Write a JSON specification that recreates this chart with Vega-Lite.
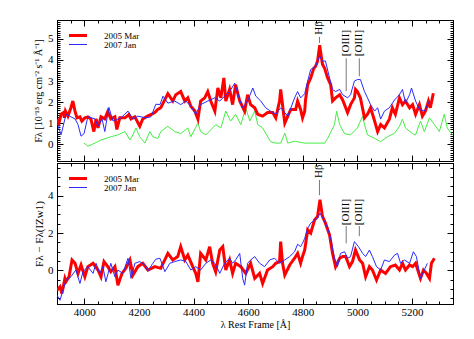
{
"$schema": "https://vega.github.io/schema/vega-lite/v6.json",
"padding": {"left": 33, "top": 19, "right": 12, "bottom": 4},
"background": "white",
"config": {
  "font": "Liberation Serif",
  "view": {"stroke": "black", "strokeWidth": 1},
  "axis": {"domainColor": "black", "tickColor": "black", "labelColor": "black", "titleColor": "black", "labelFont": "Liberation Serif", "titleFont": "Liberation Serif", "labelFontSize": 11, "titleFontSize": 11, "titleFontWeight": "normal", "grid": false, "domainWidth": 1, "tickWidth": 1, "zindex": 1, "format": "d"},
  "legend": {"orient": "top-left", "offset": 12, "padding": 0, "symbolType": "stroke", "symbolSize": 729, "clipHeight": 7, "rowPadding": -4, "labelFont": "Liberation Serif", "labelFontSize": 9, "labelColor": "black", "labelOffset": 26, "title": null}
},
"datasets": {
  "top": [
    {"s":"2005 Mar","lam":3900,"f":1.19},{"s":"2005 Mar","lam":3907,"f":1.0},{"s":"2005 Mar","lam":3915,"f":1.42},{"s":"2005 Mar","lam":3924,"f":1.5},{"s":"2005 Mar","lam":3927,"f":1.25},{"s":"2005 Mar","lam":3931,"f":1.57},{"s":"2005 Mar","lam":3940,"f":1.33},{"s":"2005 Mar","lam":3951,"f":1.73},{"s":"2005 Mar","lam":3958,"f":2.05},{"s":"2005 Mar","lam":3966,"f":1.57},{"s":"2005 Mar","lam":3973,"f":1.25},{"s":"2005 Mar","lam":3984,"f":1.3},{"s":"2005 Mar","lam":3991,"f":1.1},{"s":"2005 Mar","lam":4002,"f":1.25},{"s":"2005 Mar","lam":4013,"f":1.3},{"s":"2005 Mar","lam":4024,"f":1.2},{"s":"2005 Mar","lam":4035,"f":0.6},{"s":"2005 Mar","lam":4043,"f":1.2},{"s":"2005 Mar","lam":4050,"f":0.77},{"s":"2005 Mar","lam":4061,"f":1.3},{"s":"2005 Mar","lam":4075,"f":1.2},{"s":"2005 Mar","lam":4086,"f":1.55},{"s":"2005 Mar","lam":4097,"f":1.2},{"s":"2005 Mar","lam":4112,"f":1.3},{"s":"2005 Mar","lam":4119,"f":0.7},{"s":"2005 Mar","lam":4130,"f":1.25},{"s":"2005 Mar","lam":4149,"f":1.25},{"s":"2005 Mar","lam":4163,"f":1.4},{"s":"2005 Mar","lam":4171,"f":1.2},{"s":"2005 Mar","lam":4185,"f":1.3},{"s":"2005 Mar","lam":4203,"f":0.85},{"s":"2005 Mar","lam":4214,"f":1.2},{"s":"2005 Mar","lam":4233,"f":1.35},{"s":"2005 Mar","lam":4251,"f":1.45},{"s":"2005 Mar","lam":4258,"f":1.5},{"s":"2005 Mar","lam":4269,"f":1.65},{"s":"2005 Mar","lam":4280,"f":1.73},{"s":"2005 Mar","lam":4306,"f":2.4},{"s":"2005 Mar","lam":4324,"f":2.05},{"s":"2005 Mar","lam":4335,"f":2.35},{"s":"2005 Mar","lam":4353,"f":2.5},{"s":"2005 Mar","lam":4368,"f":2.05},{"s":"2005 Mar","lam":4379,"f":2.2},{"s":"2005 Mar","lam":4390,"f":1.8},{"s":"2005 Mar","lam":4405,"f":1.57},{"s":"2005 Mar","lam":4416,"f":1.19},{"s":"2005 Mar","lam":4426,"f":2.05},{"s":"2005 Mar","lam":4441,"f":2.2},{"s":"2005 Mar","lam":4452,"f":2.5},{"s":"2005 Mar","lam":4463,"f":2.05},{"s":"2005 Mar","lam":4478,"f":1.57},{"s":"2005 Mar","lam":4489,"f":2.67},{"s":"2005 Mar","lam":4500,"f":2.2},{"s":"2005 Mar","lam":4511,"f":3.15},{"s":"2005 Mar","lam":4518,"f":2.05},{"s":"2005 Mar","lam":4532,"f":2.6},{"s":"2005 Mar","lam":4543,"f":1.88},{"s":"2005 Mar","lam":4554,"f":2.83},{"s":"2005 Mar","lam":4569,"f":2.05},{"s":"2005 Mar","lam":4587,"f":1.57},{"s":"2005 Mar","lam":4598,"f":2.35},{"s":"2005 Mar","lam":4609,"f":1.88},{"s":"2005 Mar","lam":4624,"f":1.73},{"s":"2005 Mar","lam":4635,"f":1.42},{"s":"2005 Mar","lam":4653,"f":1.33},{"s":"2005 Mar","lam":4671,"f":1.5},{"s":"2005 Mar","lam":4690,"f":1.5},{"s":"2005 Mar","lam":4701,"f":1.25},{"s":"2005 Mar","lam":4715,"f":2.05},{"s":"2005 Mar","lam":4719,"f":2.6},{"s":"2005 Mar","lam":4734,"f":1.0},{"s":"2005 Mar","lam":4745,"f":1.33},{"s":"2005 Mar","lam":4756,"f":1.65},{"s":"2005 Mar","lam":4774,"f":1.65},{"s":"2005 Mar","lam":4781,"f":2.05},{"s":"2005 Mar","lam":4792,"f":1.65},{"s":"2005 Mar","lam":4799,"f":1.25},{"s":"2005 Mar","lam":4807,"f":1.57},{"s":"2005 Mar","lam":4810,"f":2.1},{"s":"2005 Mar","lam":4818,"f":2.83},{"s":"2005 Mar","lam":4829,"f":3.15},{"s":"2005 Mar","lam":4840,"f":3.6},{"s":"2005 Mar","lam":4847,"f":3.7},{"s":"2005 Mar","lam":4854,"f":3.95},{"s":"2005 Mar","lam":4862,"f":4.7},{"s":"2005 Mar","lam":4865,"f":4.4},{"s":"2005 Mar","lam":4872,"f":3.8},{"s":"2005 Mar","lam":4880,"f":3.6},{"s":"2005 Mar","lam":4891,"f":3.15},{"s":"2005 Mar","lam":4902,"f":2.83},{"s":"2005 Mar","lam":4909,"f":2.05},{"s":"2005 Mar","lam":4920,"f":2.2},{"s":"2005 Mar","lam":4935,"f":2.35},{"s":"2005 Mar","lam":4946,"f":2.1},{"s":"2005 Mar","lam":4964,"f":1.5},{"s":"2005 Mar","lam":4975,"f":1.88},{"s":"2005 Mar","lam":4989,"f":2.2},{"s":"2005 Mar","lam":4993,"f":2.6},{"s":"2005 Mar","lam":5000,"f":2.5},{"s":"2005 Mar","lam":5011,"f":2.2},{"s":"2005 Mar","lam":5026,"f":1.25},{"s":"2005 Mar","lam":5037,"f":1.42},{"s":"2005 Mar","lam":5048,"f":1.73},{"s":"2005 Mar","lam":5063,"f":1.1},{"s":"2005 Mar","lam":5074,"f":0.6},{"s":"2005 Mar","lam":5085,"f":0.93},{"s":"2005 Mar","lam":5099,"f":0.77},{"s":"2005 Mar","lam":5117,"f":1.19},{"s":"2005 Mar","lam":5128,"f":1.73},{"s":"2005 Mar","lam":5139,"f":1.42},{"s":"2005 Mar","lam":5154,"f":2.2},{"s":"2005 Mar","lam":5165,"f":1.88},{"s":"2005 Mar","lam":5176,"f":2.05},{"s":"2005 Mar","lam":5191,"f":1.73},{"s":"2005 Mar","lam":5202,"f":1.88},{"s":"2005 Mar","lam":5213,"f":1.42},{"s":"2005 Mar","lam":5227,"f":1.88},{"s":"2005 Mar","lam":5238,"f":1.33},{"s":"2005 Mar","lam":5249,"f":1.57},{"s":"2005 Mar","lam":5260,"f":2.05},{"s":"2005 Mar","lam":5267,"f":1.73},{"s":"2005 Mar","lam":5278,"f":2.42},
    {"s":"2007 Jan","lam":3900,"f":1.0},{"s":"2007 Jan","lam":3915,"f":0.45},{"s":"2007 Jan","lam":3933,"f":1.42},{"s":"2007 Jan","lam":3951,"f":1.3},{"s":"2007 Jan","lam":3966,"f":1.2},{"s":"2007 Jan","lam":3977,"f":0.93},{"s":"2007 Jan","lam":3988,"f":0.38},{"s":"2007 Jan","lam":3999,"f":0.5},{"s":"2007 Jan","lam":4013,"f":1.3},{"s":"2007 Jan","lam":4039,"f":1.2},{"s":"2007 Jan","lam":4050,"f":0.85},{"s":"2007 Jan","lam":4065,"f":1.2},{"s":"2007 Jan","lam":4075,"f":0.6},{"s":"2007 Jan","lam":4090,"f":1.75},{"s":"2007 Jan","lam":4105,"f":1.1},{"s":"2007 Jan","lam":4134,"f":1.25},{"s":"2007 Jan","lam":4160,"f":1.57},{"s":"2007 Jan","lam":4178,"f":1.2},{"s":"2007 Jan","lam":4196,"f":1.33},{"s":"2007 Jan","lam":4225,"f":1.25},{"s":"2007 Jan","lam":4244,"f":1.3},{"s":"2007 Jan","lam":4262,"f":1.9},{"s":"2007 Jan","lam":4277,"f":1.88},{"s":"2007 Jan","lam":4288,"f":2.28},{"s":"2007 Jan","lam":4306,"f":1.95},{"s":"2007 Jan","lam":4331,"f":2.05},{"s":"2007 Jan","lam":4353,"f":1.88},{"s":"2007 Jan","lam":4372,"f":2.05},{"s":"2007 Jan","lam":4390,"f":1.8},{"s":"2007 Jan","lam":4408,"f":1.42},{"s":"2007 Jan","lam":4426,"f":1.88},{"s":"2007 Jan","lam":4452,"f":2.05},{"s":"2007 Jan","lam":4478,"f":2.2},{"s":"2007 Jan","lam":4496,"f":2.05},{"s":"2007 Jan","lam":4514,"f":2.28},{"s":"2007 Jan","lam":4532,"f":2.5},{"s":"2007 Jan","lam":4551,"f":2.9},{"s":"2007 Jan","lam":4569,"f":2.1},{"s":"2007 Jan","lam":4580,"f":1.73},{"s":"2007 Jan","lam":4598,"f":2.05},{"s":"2007 Jan","lam":4617,"f":2.67},{"s":"2007 Jan","lam":4628,"f":2.28},{"s":"2007 Jan","lam":4646,"f":2.05},{"s":"2007 Jan","lam":4664,"f":1.73},{"s":"2007 Jan","lam":4682,"f":1.57},{"s":"2007 Jan","lam":4701,"f":1.42},{"s":"2007 Jan","lam":4719,"f":1.73},{"s":"2007 Jan","lam":4745,"f":1.33},{"s":"2007 Jan","lam":4770,"f":2.2},{"s":"2007 Jan","lam":4781,"f":2.5},{"s":"2007 Jan","lam":4792,"f":2.2},{"s":"2007 Jan","lam":4807,"f":2.4},{"s":"2007 Jan","lam":4818,"f":3.0},{"s":"2007 Jan","lam":4829,"f":3.55},{"s":"2007 Jan","lam":4847,"f":3.7},{"s":"2007 Jan","lam":4862,"f":4.18},{"s":"2007 Jan","lam":4872,"f":3.95},{"s":"2007 Jan","lam":4883,"f":3.95},{"s":"2007 Jan","lam":4898,"f":3.15},{"s":"2007 Jan","lam":4909,"f":2.6},{"s":"2007 Jan","lam":4920,"f":2.5},{"s":"2007 Jan","lam":4935,"f":2.6},{"s":"2007 Jan","lam":4946,"f":2.35},{"s":"2007 Jan","lam":4964,"f":2.2},{"s":"2007 Jan","lam":4975,"f":2.35},{"s":"2007 Jan","lam":4989,"f":3.0},{"s":"2007 Jan","lam":5000,"f":3.07},{"s":"2007 Jan","lam":5011,"f":3.07},{"s":"2007 Jan","lam":5026,"f":2.5},{"s":"2007 Jan","lam":5037,"f":2.2},{"s":"2007 Jan","lam":5048,"f":1.88},{"s":"2007 Jan","lam":5063,"f":1.57},{"s":"2007 Jan","lam":5074,"f":1.73},{"s":"2007 Jan","lam":5085,"f":1.19},{"s":"2007 Jan","lam":5099,"f":1.57},{"s":"2007 Jan","lam":5117,"f":1.73},{"s":"2007 Jan","lam":5136,"f":2.1},{"s":"2007 Jan","lam":5154,"f":2.35},{"s":"2007 Jan","lam":5165,"f":2.6},{"s":"2007 Jan","lam":5176,"f":1.95},{"s":"2007 Jan","lam":5191,"f":2.35},{"s":"2007 Jan","lam":5198,"f":2.67},{"s":"2007 Jan","lam":5213,"f":2.05},{"s":"2007 Jan","lam":5227,"f":1.65},{"s":"2007 Jan","lam":5245,"f":1.57},{"s":"2007 Jan","lam":5264,"f":2.05},
    {"s":"IZw1","lam":3999,"f":0.05},{"s":"IZw1","lam":4013,"f":-0.1},{"s":"IZw1","lam":4039,"f":0.05},{"s":"IZw1","lam":4061,"f":0.2},{"s":"IZw1","lam":4097,"f":0.35},{"s":"IZw1","lam":4123,"f":0.44},{"s":"IZw1","lam":4149,"f":0.6},{"s":"IZw1","lam":4167,"f":0.2},{"s":"IZw1","lam":4178,"f":0.44},{"s":"IZw1","lam":4189,"f":0.77},{"s":"IZw1","lam":4203,"f":0.35},{"s":"IZw1","lam":4222,"f":0.05},{"s":"IZw1","lam":4240,"f":0.6},{"s":"IZw1","lam":4251,"f":0.35},{"s":"IZw1","lam":4269,"f":0.27},{"s":"IZw1","lam":4280,"f":0.6},{"s":"IZw1","lam":4306,"f":0.85},{"s":"IZw1","lam":4331,"f":0.6},{"s":"IZw1","lam":4353,"f":0.5},{"s":"IZw1","lam":4379,"f":0.77},{"s":"IZw1","lam":4390,"f":0.35},{"s":"IZw1","lam":4416,"f":1.0},{"s":"IZw1","lam":4426,"f":0.6},{"s":"IZw1","lam":4445,"f":0.44},{"s":"IZw1","lam":4463,"f":0.68},{"s":"IZw1","lam":4481,"f":0.93},{"s":"IZw1","lam":4500,"f":0.77},{"s":"IZw1","lam":4518,"f":1.57},{"s":"IZw1","lam":4536,"f":1.1},{"s":"IZw1","lam":4554,"f":1.42},{"s":"IZw1","lam":4573,"f":0.93},{"s":"IZw1","lam":4591,"f":1.73},{"s":"IZw1","lam":4606,"f":1.1},{"s":"IZw1","lam":4624,"f":1.57},{"s":"IZw1","lam":4635,"f":0.93},{"s":"IZw1","lam":4653,"f":0.77},{"s":"IZw1","lam":4664,"f":0.52},{"s":"IZw1","lam":4682,"f":0.12},{"s":"IZw1","lam":4701,"f":0.05},{"s":"IZw1","lam":4719,"f":0.05},{"s":"IZw1","lam":4734,"f":0.52},{"s":"IZw1","lam":4745,"f":0.05},{"s":"IZw1","lam":4770,"f":0.14},{"s":"IZw1","lam":4807,"f":0.05},{"s":"IZw1","lam":4854,"f":0.05},{"s":"IZw1","lam":4880,"f":0.05},{"s":"IZw1","lam":4891,"f":0.27},{"s":"IZw1","lam":4916,"f":0.93},{"s":"IZw1","lam":4924,"f":1.57},{"s":"IZw1","lam":4935,"f":0.93},{"s":"IZw1","lam":4953,"f":0.5},{"s":"IZw1","lam":4975,"f":0.44},{"s":"IZw1","lam":5000,"f":0.77},{"s":"IZw1","lam":5019,"f":1.33},{"s":"IZw1","lam":5026,"f":0.93},{"s":"IZw1","lam":5037,"f":0.44},{"s":"IZw1","lam":5063,"f":0.27},{"s":"IZw1","lam":5085,"f":0.12},{"s":"IZw1","lam":5110,"f":0.35},{"s":"IZw1","lam":5136,"f":0.52},{"s":"IZw1","lam":5154,"f":0.85},{"s":"IZw1","lam":5165,"f":1.19},{"s":"IZw1","lam":5176,"f":0.77},{"s":"IZw1","lam":5202,"f":0.5},{"s":"IZw1","lam":5213,"f":0.44},{"s":"IZw1","lam":5231,"f":1.1},{"s":"IZw1","lam":5245,"f":0.6},{"s":"IZw1","lam":5264,"f":1.25},{"s":"IZw1","lam":5282,"f":0.93},{"s":"IZw1","lam":5300,"f":0.6},{"s":"IZw1","lam":5318,"f":1.42},{"s":"IZw1","lam":5329,"f":0.77},{"s":"IZw1","lam":5348,"f":0.44}
  ],
  "bot": [
    {"s":"2005 Mar","lam":3900,"f":-1.06},{"s":"2005 Mar","lam":3911,"f":-0.88},{"s":"2005 Mar","lam":3918,"f":-1.24},{"s":"2005 Mar","lam":3929,"f":-0.43},{"s":"2005 Mar","lam":3933,"f":-0.6},{"s":"2005 Mar","lam":3944,"f":-0.34},{"s":"2005 Mar","lam":3955,"f":0.56},{"s":"2005 Mar","lam":3966,"f":0.38},{"s":"2005 Mar","lam":3977,"f":-0.16},{"s":"2005 Mar","lam":3988,"f":0.29},{"s":"2005 Mar","lam":4002,"f":-0.34},{"s":"2005 Mar","lam":4013,"f":0.2},{"s":"2005 Mar","lam":4032,"f":0.38},{"s":"2005 Mar","lam":4050,"f":0.02},{"s":"2005 Mar","lam":4061,"f":-0.34},{"s":"2005 Mar","lam":4072,"f":0.47},{"s":"2005 Mar","lam":4086,"f":0.2},{"s":"2005 Mar","lam":4097,"f":-0.07},{"s":"2005 Mar","lam":4112,"f":0.2},{"s":"2005 Mar","lam":4123,"f":-0.79},{"s":"2005 Mar","lam":4138,"f":-0.16},{"s":"2005 Mar","lam":4152,"f":0.11},{"s":"2005 Mar","lam":4167,"f":0.56},{"s":"2005 Mar","lam":4178,"f":-0.25},{"s":"2005 Mar","lam":4196,"f":0.2},{"s":"2005 Mar","lam":4214,"f":0.38},{"s":"2005 Mar","lam":4233,"f":0.02},{"s":"2005 Mar","lam":4258,"f":0.2},{"s":"2005 Mar","lam":4280,"f":0.11},{"s":"2005 Mar","lam":4306,"f":0.91},{"s":"2005 Mar","lam":4324,"f":0.56},{"s":"2005 Mar","lam":4342,"f":0.74},{"s":"2005 Mar","lam":4353,"f":1.27},{"s":"2005 Mar","lam":4368,"f":0.56},{"s":"2005 Mar","lam":4379,"f":0.82},{"s":"2005 Mar","lam":4397,"f":0.2},{"s":"2005 Mar","lam":4408,"f":-0.16},{"s":"2005 Mar","lam":4416,"f":-0.61},{"s":"2005 Mar","lam":4426,"f":0.91},{"s":"2005 Mar","lam":4445,"f":0.56},{"s":"2005 Mar","lam":4459,"f":1.27},{"s":"2005 Mar","lam":4470,"f":0.38},{"s":"2005 Mar","lam":4481,"f":-0.07},{"s":"2005 Mar","lam":4496,"f":1.09},{"s":"2005 Mar","lam":4507,"f":1.27},{"s":"2005 Mar","lam":4518,"f":0.02},{"s":"2005 Mar","lam":4532,"f":0.56},{"s":"2005 Mar","lam":4543,"f":-0.16},{"s":"2005 Mar","lam":4554,"f":0.38},{"s":"2005 Mar","lam":4573,"f":0.2},{"s":"2005 Mar","lam":4591,"f":-0.16},{"s":"2005 Mar","lam":4609,"f":0.38},{"s":"2005 Mar","lam":4624,"f":-0.43},{"s":"2005 Mar","lam":4642,"f":-0.16},{"s":"2005 Mar","lam":4653,"f":-0.7},{"s":"2005 Mar","lam":4671,"f":0.02},{"s":"2005 Mar","lam":4690,"f":0.2},{"s":"2005 Mar","lam":4701,"f":0.38},{"s":"2005 Mar","lam":4715,"f":0.47},{"s":"2005 Mar","lam":4719,"f":1.54},{"s":"2005 Mar","lam":4726,"f":0.38},{"s":"2005 Mar","lam":4734,"f":-0.25},{"s":"2005 Mar","lam":4752,"f":0.29},{"s":"2005 Mar","lam":4770,"f":0.65},{"s":"2005 Mar","lam":4781,"f":0.91},{"s":"2005 Mar","lam":4792,"f":0.38},{"s":"2005 Mar","lam":4799,"f":0.74},{"s":"2005 Mar","lam":4807,"f":1.09},{"s":"2005 Mar","lam":4818,"f":2.17},{"s":"2005 Mar","lam":4829,"f":2.0},{"s":"2005 Mar","lam":4843,"f":2.7},{"s":"2005 Mar","lam":4854,"f":2.89},{"s":"2005 Mar","lam":4863,"f":3.78},{"s":"2005 Mar","lam":4872,"f":2.89},{"s":"2005 Mar","lam":4883,"f":2.53},{"s":"2005 Mar","lam":4898,"f":1.9},{"s":"2005 Mar","lam":4909,"f":0.91},{"s":"2005 Mar","lam":4920,"f":0.2},{"s":"2005 Mar","lam":4935,"f":0.65},{"s":"2005 Mar","lam":4946,"f":0.74},{"s":"2005 Mar","lam":4957,"f":0.74},{"s":"2005 Mar","lam":4971,"f":0.2},{"s":"2005 Mar","lam":4982,"f":0.47},{"s":"2005 Mar","lam":4993,"f":1.09},{"s":"2005 Mar","lam":5008,"f":0.56},{"s":"2005 Mar","lam":5019,"f":0.38},{"s":"2005 Mar","lam":5030,"f":-0.34},{"s":"2005 Mar","lam":5044,"f":0.2},{"s":"2005 Mar","lam":5055,"f":0.02},{"s":"2005 Mar","lam":5070,"f":-0.52},{"s":"2005 Mar","lam":5085,"f":0.02},{"s":"2005 Mar","lam":5103,"f":-0.16},{"s":"2005 Mar","lam":5121,"f":0.2},{"s":"2005 Mar","lam":5139,"f":0.29},{"s":"2005 Mar","lam":5154,"f":0.02},{"s":"2005 Mar","lam":5165,"f":0.38},{"s":"2005 Mar","lam":5176,"f":0.02},{"s":"2005 Mar","lam":5191,"f":0.29},{"s":"2005 Mar","lam":5202,"f":0.2},{"s":"2005 Mar","lam":5213,"f":0.38},{"s":"2005 Mar","lam":5231,"f":-0.43},{"s":"2005 Mar","lam":5242,"f":0.02},{"s":"2005 Mar","lam":5253,"f":-0.16},{"s":"2005 Mar","lam":5264,"f":-0.43},{"s":"2005 Mar","lam":5271,"f":0.38},{"s":"2005 Mar","lam":5282,"f":0.65},
    {"s":"2007 Jan","lam":3900,"f":-1.33},{"s":"2007 Jan","lam":3911,"f":-1.6},{"s":"2007 Jan","lam":3922,"f":-1.06},{"s":"2007 Jan","lam":3933,"f":-0.52},{"s":"2007 Jan","lam":3951,"f":-0.34},{"s":"2007 Jan","lam":3969,"f":0.02},{"s":"2007 Jan","lam":3984,"f":-0.7},{"s":"2007 Jan","lam":3995,"f":-0.07},{"s":"2007 Jan","lam":4013,"f":0.2},{"s":"2007 Jan","lam":4032,"f":-0.16},{"s":"2007 Jan","lam":4043,"f":0.38},{"s":"2007 Jan","lam":4057,"f":-0.16},{"s":"2007 Jan","lam":4068,"f":0.2},{"s":"2007 Jan","lam":4079,"f":-0.61},{"s":"2007 Jan","lam":4097,"f":0.38},{"s":"2007 Jan","lam":4112,"f":-0.34},{"s":"2007 Jan","lam":4123,"f":0.02},{"s":"2007 Jan","lam":4141,"f":-0.16},{"s":"2007 Jan","lam":4160,"f":0.65},{"s":"2007 Jan","lam":4171,"f":-0.43},{"s":"2007 Jan","lam":4185,"f":0.38},{"s":"2007 Jan","lam":4203,"f":0.47},{"s":"2007 Jan","lam":4222,"f":0.29},{"s":"2007 Jan","lam":4233,"f":-0.03},{"s":"2007 Jan","lam":4251,"f":0.38},{"s":"2007 Jan","lam":4262,"f":0.6},{"s":"2007 Jan","lam":4277,"f":0.65},{"s":"2007 Jan","lam":4295,"f":-0.07},{"s":"2007 Jan","lam":4313,"f":0.38},{"s":"2007 Jan","lam":4331,"f":0.47},{"s":"2007 Jan","lam":4353,"f":0.56},{"s":"2007 Jan","lam":4372,"f":0.47},{"s":"2007 Jan","lam":4390,"f":0.02},{"s":"2007 Jan","lam":4408,"f":0.2},{"s":"2007 Jan","lam":4426,"f":0.02},{"s":"2007 Jan","lam":4445,"f":0.38},{"s":"2007 Jan","lam":4463,"f":0.56},{"s":"2007 Jan","lam":4478,"f":0.38},{"s":"2007 Jan","lam":4496,"f":-0.16},{"s":"2007 Jan","lam":4514,"f":0.38},{"s":"2007 Jan","lam":4532,"f":0.65},{"s":"2007 Jan","lam":4543,"f":0.38},{"s":"2007 Jan","lam":4554,"f":0.56},{"s":"2007 Jan","lam":4569,"f":0.91},{"s":"2007 Jan","lam":4580,"f":-0.43},{"s":"2007 Jan","lam":4587,"f":-0.79},{"s":"2007 Jan","lam":4598,"f":0.38},{"s":"2007 Jan","lam":4609,"f":0.56},{"s":"2007 Jan","lam":4624,"f":0.74},{"s":"2007 Jan","lam":4642,"f":0.38},{"s":"2007 Jan","lam":4660,"f":0.2},{"s":"2007 Jan","lam":4679,"f":0.56},{"s":"2007 Jan","lam":4697,"f":0.65},{"s":"2007 Jan","lam":4715,"f":0.38},{"s":"2007 Jan","lam":4734,"f":0.56},{"s":"2007 Jan","lam":4752,"f":0.74},{"s":"2007 Jan","lam":4770,"f":1.0},{"s":"2007 Jan","lam":4781,"f":1.4},{"s":"2007 Jan","lam":4792,"f":1.27},{"s":"2007 Jan","lam":4799,"f":1.45},{"s":"2007 Jan","lam":4807,"f":1.72},{"s":"2007 Jan","lam":4818,"f":2.26},{"s":"2007 Jan","lam":4829,"f":2.53},{"s":"2007 Jan","lam":4843,"f":2.7},{"s":"2007 Jan","lam":4854,"f":2.8},{"s":"2007 Jan","lam":4863,"f":3.06},{"s":"2007 Jan","lam":4880,"f":2.62},{"s":"2007 Jan","lam":4891,"f":2.26},{"s":"2007 Jan","lam":4902,"f":1.72},{"s":"2007 Jan","lam":4916,"f":0.65},{"s":"2007 Jan","lam":4927,"f":0.2},{"s":"2007 Jan","lam":4938,"f":0.91},{"s":"2007 Jan","lam":4953,"f":1.0},{"s":"2007 Jan","lam":4964,"f":0.65},{"s":"2007 Jan","lam":4975,"f":0.74},{"s":"2007 Jan","lam":4989,"f":1.54},{"s":"2007 Jan","lam":5004,"f":1.27},{"s":"2007 Jan","lam":5019,"f":0.91},{"s":"2007 Jan","lam":5030,"f":0.74},{"s":"2007 Jan","lam":5044,"f":1.09},{"s":"2007 Jan","lam":5055,"f":0.74},{"s":"2007 Jan","lam":5070,"f":0.2},{"s":"2007 Jan","lam":5085,"f":0.02},{"s":"2007 Jan","lam":5099,"f":0.56},{"s":"2007 Jan","lam":5117,"f":0.47},{"s":"2007 Jan","lam":5136,"f":0.82},{"s":"2007 Jan","lam":5147,"f":0.91},{"s":"2007 Jan","lam":5158,"f":0.38},{"s":"2007 Jan","lam":5172,"f":0.56},{"s":"2007 Jan","lam":5191,"f":0.38},{"s":"2007 Jan","lam":5205,"f":1.0},{"s":"2007 Jan","lam":5216,"f":0.74},{"s":"2007 Jan","lam":5231,"f":-0.43},{"s":"2007 Jan","lam":5245,"f":0.02},{"s":"2007 Jan","lam":5256,"f":0.38}
  ],
  "annTop": [
    {"lam":4861,"label":"Hβ","yt":5.2,"y1":5.1,"y2":4.8},
    {"lam":4959,"label":"[OIII]","yt":4.18,"y1":4.08,"y2":2.52},
    {"lam":5007,"label":"[OIII]","yt":4.18,"y1":4.08,"y2":3.23}
  ],
  "annBot": [
    {"lam":4861,"label":"Hβ","yt":4.95,"y1":4.84,"y2":4.03},
    {"lam":4959,"label":"[OIII]","yt":2.42,"y1":2.37,"y2":1.45},
    {"lam":5007,"label":"[OIII]","yt":2.42,"y1":2.37,"y2":1.83}
  ]
},
"vconcat": [
  {
    "width": 396, "height": 141,
    "resolve": {"axis": {"x": "independent", "y": "independent"}},
    "layer": [
      {
        "data": {"name": "top"},
        "transform": [{"filter": "datum.s == 'IZw1'"}],
        "mark": {"type": "line", "clip": true, "strokeWidth": 1},
        "encoding": {
          "x": {"field": "lam", "type": "quantitative", "scale": {"domain": [3900, 5350], "nice": false, "zero": false}, "axis": {"orient": "bottom", "values": [4000,4200,4400,4600,4800,5000,5200], "labels": false, "tickSize": -6, "title": null}},
          "y": {"field": "f", "type": "quantitative", "scale": {"domain": [-0.8, 5.9], "nice": false, "zero": false}, "axis": {"orient": "left", "values": [0,1,2,3,4,5], "tickSize": -6, "labelPadding": 10, "title": "Fλ [10⁻¹⁵ erg cm⁻² s⁻¹ Å⁻¹]", "titleFontSize": 10, "titlePadding": 4}},
          "color": {"field": "s", "type": "nominal", "scale": {"domain": ["2005 Mar","2007 Jan","IZw1"], "range": ["#ff0000","#2a2aff","#44ee44"]}, "legend": {"values": ["2005 Mar","2007 Jan"], "encode": {"symbols": {"update": {"strokeWidth": {"signal": "datum.value === '2005 Mar' ? 3 : 1"}}}}}}
        }
      },
      {
        "data": {"name": "top"},
        "transform": [{"filter": "datum.s == '2005 Mar'"}],
        "mark": {"type": "line", "clip": true, "strokeWidth": 3},
        "encoding": {
          "x": {"field": "lam", "type": "quantitative", "axis": {"orient": "bottom", "values": [3900,3950,4000,4050,4100,4150,4200,4250,4300,4350,4400,4450,4500,4550,4600,4650,4700,4750,4800,4850,4900,4950,5000,5050,5100,5150,5200,5250,5300,5350], "labels": false, "tickSize": -3, "title": null}},
          "y": {"field": "f", "type": "quantitative", "axis": {"orient": "left", "values": [-0.8,-0.7,-0.6,-0.5,-0.4,-0.3,-0.2,-0.1,0,0.1,0.2,0.3,0.4,0.5,0.6,0.7,0.8,0.9,1,1.1,1.2,1.3,1.4,1.5,1.6,1.7,1.8,1.9,2,2.1,2.2,2.3,2.4,2.5,2.6,2.7,2.8,2.9,3,3.1,3.2,3.3,3.4,3.5,3.6,3.7,3.8,3.9,4,4.1,4.2,4.3,4.4,4.5,4.6,4.7,4.8,4.9,5,5.1,5.2,5.3,5.4,5.5,5.6,5.7,5.8], "labels": false, "tickSize": -3, "title": null}},
          "color": {"field": "s", "type": "nominal"}
        }
      },
      {
        "data": {"name": "top"},
        "transform": [{"filter": "datum.s == '2007 Jan'"}],
        "mark": {"type": "line", "clip": true, "strokeWidth": 1},
        "encoding": {
          "x": {"field": "lam", "type": "quantitative", "axis": {"orient": "top", "values": [4000,4200,4400,4600,4800,5000,5200], "labels": false, "tickSize": -6, "title": null}},
          "y": {"field": "f", "type": "quantitative", "axis": {"orient": "right", "values": [0,1,2,3,4,5], "labels": false, "tickSize": -6, "title": null}},
          "color": {"field": "s", "type": "nominal"}
        }
      },
      {
        "data": {"name": "annTop"},
        "mark": {"type": "rule", "color": "#555555", "strokeWidth": 0.8},
        "encoding": {
          "x": {"field": "lam", "type": "quantitative", "axis": {"orient": "top", "values": [3900,3950,4000,4050,4100,4150,4200,4250,4300,4350,4400,4450,4500,4550,4600,4650,4700,4750,4800,4850,4900,4950,5000,5050,5100,5150,5200,5250,5300,5350], "labels": false, "tickSize": -3, "title": null}},
          "y": {"field": "y1", "type": "quantitative", "axis": {"orient": "right", "values": [-0.8,-0.7,-0.6,-0.5,-0.4,-0.3,-0.2,-0.1,0,0.1,0.2,0.3,0.4,0.5,0.6,0.7,0.8,0.9,1,1.1,1.2,1.3,1.4,1.5,1.6,1.7,1.8,1.9,2,2.1,2.2,2.3,2.4,2.5,2.6,2.7,2.8,2.9,3,3.1,3.2,3.3,3.4,3.5,3.6,3.7,3.8,3.9,4,4.1,4.2,4.3,4.4,4.5,4.6,4.7,4.8,4.9,5,5.1,5.2,5.3,5.4,5.5,5.6,5.7,5.8], "labels": false, "tickSize": -3, "title": null}},
          "y2": {"field": "y2"}
        }
      },
      {
        "data": {"name": "annTop"},
        "mark": {"type": "text", "angle": 270, "align": "left", "baseline": "middle", "font": "Liberation Serif", "fontSize": 11, "color": "black"},
        "encoding": {
          "x": {"field": "lam", "type": "quantitative", "axis": null},
          "y": {"field": "yt", "type": "quantitative", "axis": null},
          "text": {"field": "label"}
        }
      }
    ]
  },
  {
    "width": 396, "height": 141,
    "resolve": {"axis": {"x": "independent", "y": "independent"}},
    "layer": [
      {
        "data": {"name": "bot"},
        "transform": [{"filter": "datum.s == '2005 Mar'"}],
        "mark": {"type": "line", "clip": true, "strokeWidth": 3},
        "encoding": {
          "x": {"field": "lam", "type": "quantitative", "scale": {"domain": [3900, 5350], "nice": false, "zero": false}, "axis": {"orient": "bottom", "values": [4000,4200,4400,4600,4800,5000,5200], "tickSize": -6, "labelPadding": 8, "title": "λ Rest Frame [Å]", "titleFontSize": 10, "titlePadding": 2}},
          "y": {"field": "f", "type": "quantitative", "scale": {"domain": [-1.8, 5.75], "nice": false, "zero": false}, "axis": {"orient": "left", "values": [0,2,4], "tickSize": -6, "labelPadding": 10, "title": "Fλ − Fλ(IZw1)", "titlePadding": 3}},
          "color": {"field": "s", "type": "nominal", "scale": {"domain": ["2005 Mar","2007 Jan"], "range": ["#ff0000","#2a2aff"]}, "legend": {"values": ["2005 Mar","2007 Jan"], "encode": {"symbols": {"update": {"strokeWidth": {"signal": "datum.value === '2005 Mar' ? 3 : 1"}}}}}}
        }
      },
      {
        "data": {"name": "bot"},
        "transform": [{"filter": "datum.s == '2007 Jan'"}],
        "mark": {"type": "line", "clip": true, "strokeWidth": 1},
        "encoding": {
          "x": {"field": "lam", "type": "quantitative", "axis": {"orient": "bottom", "values": [3900,3950,4000,4050,4100,4150,4200,4250,4300,4350,4400,4450,4500,4550,4600,4650,4700,4750,4800,4850,4900,4950,5000,5050,5100,5150,5200,5250,5300,5350], "labels": false, "tickSize": -3, "title": null}},
          "y": {"field": "f", "type": "quantitative", "axis": {"orient": "left", "values": [-1.5,-1,-0.5,0,0.5,1,1.5,2,2.5,3,3.5,4,4.5,5,5.5], "labels": false, "tickSize": -3, "title": null}},
          "color": {"field": "s", "type": "nominal"}
        }
      },
      {
        "data": {"name": "annBot"},
        "mark": {"type": "rule", "color": "#555555", "strokeWidth": 0.8},
        "encoding": {
          "x": {"field": "lam", "type": "quantitative", "axis": {"orient": "top", "values": [4000,4200,4400,4600,4800,5000,5200], "labels": false, "tickSize": -6, "title": null}},
          "y": {"field": "y1", "type": "quantitative", "axis": {"orient": "right", "values": [0,2,4], "labels": false, "tickSize": -6, "title": null}},
          "y2": {"field": "y2"}
        }
      },
      {
        "data": {"name": "annBot"},
        "mark": {"type": "text", "angle": 270, "align": "left", "baseline": "middle", "font": "Liberation Serif", "fontSize": 11, "color": "black"},
        "encoding": {
          "x": {"field": "lam", "type": "quantitative", "axis": {"orient": "top", "values": [3900,3950,4000,4050,4100,4150,4200,4250,4300,4350,4400,4450,4500,4550,4600,4650,4700,4750,4800,4850,4900,4950,5000,5050,5100,5150,5200,5250,5300,5350], "labels": false, "tickSize": -3, "title": null}},
          "y": {"field": "yt", "type": "quantitative", "axis": {"orient": "right", "values": [-1.5,-1,-0.5,0,0.5,1,1.5,2,2.5,3,3.5,4,4.5,5,5.5], "labels": false, "tickSize": -3, "title": null}},
          "text": {"field": "label"}
        }
      }
    ]
  }
],
"spacing": 0,
"resolve": {"scale": {"x": "independent", "y": "independent", "color": "independent"}, "legend": {"color": "independent"}}
}
